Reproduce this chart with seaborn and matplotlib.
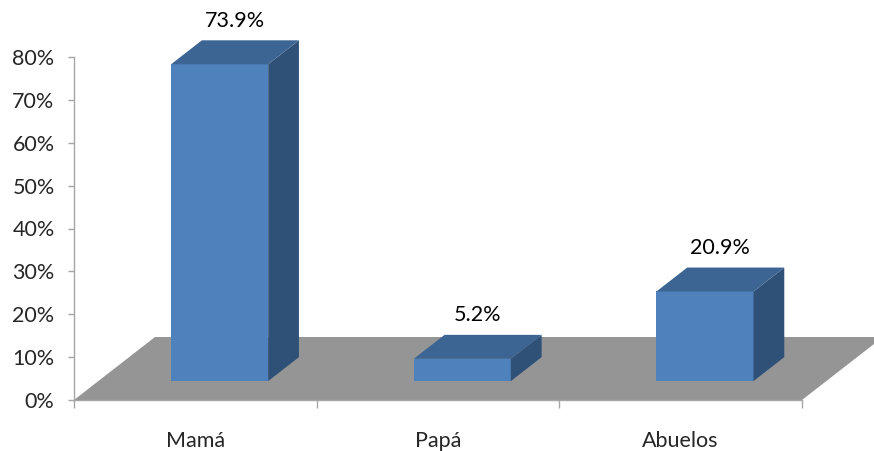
import matplotlib
matplotlib.use("Agg")
import matplotlib.pyplot as plt
from matplotlib.patches import Polygon
from matplotlib.ticker import FixedLocator, PercentFormatter
import seaborn as sns
import pandas as pd

# Chart data
categorias = ["Mamá", "Papá", "Abuelos"]
valores = [73.9, 5.2, 20.9]
etiquetas = ["73.9%", "5.2%", "20.9%"]
y_ticks = [0, 10, 20, 30, 40, 50, 60, 70, 80]

# Colours of the 3D boxes and floor
FRONT = "#4F81BD"
TOP = "#3C6594"
SIDE = "#2F5178"
FLOOR = "#959595"
AXIS = "#A6A6A6"

sns.set_style("white")
plt.rcParams["font.family"] = ["Lato", "DejaVu Sans"]
FS = 15.5

W, H = 874, 451
fig = plt.figure(figsize=(W / 100, H / 100), dpi=100)
# plot area: x from 74px to 802px, 0%..80% from y=400px to y=57px
ax = fig.add_axes([74 / W, (H - 400) / H, 728 / W, 343 / H])

# oblique projection of depth: full floor depth offsets in data units
DX = 81 / (728 / 3)
DY = 63 / (343 / 80)
Z0, Z1 = 0.30, 0.68          # depth range occupied by the boxes
XL, XR = -0.5 - Z0 * DX, 2.5 - Z0 * DX

# floor
ax.add_patch(Polygon([(XL, 0), (XR, 0), (XR + DX, DY), (XL + DX, DY)],
                     closed=True, facecolor=FLOOR, edgecolor="none",
                     zorder=0.5, clip_on=False))

df = pd.DataFrame({"categoria": categorias, "valor": valores})
sns.barplot(data=df, x="categoria", y="valor", width=0.4, color=FRONT,
            saturation=1, errorbar=None, bottom=Z0 * DY, linewidth=0,
            ax=ax, zorder=3, clip_on=False)

ddx = (Z1 - Z0) * DX
ddy = (Z1 - Z0) * DY
for bar, txt in zip(ax.patches[-len(valores):], etiquetas):
    x0 = bar.get_x()
    x1 = x0 + bar.get_width()
    b = bar.get_y()
    t = b + bar.get_height()
    ax.add_patch(Polygon([(x1, b), (x1 + ddx, b + ddy), (x1 + ddx, t + ddy), (x1, t)],
                         closed=True, facecolor=SIDE, edgecolor="none",
                         zorder=3, clip_on=False))
    ax.add_patch(Polygon([(x0, t), (x1, t), (x1 + ddx, t + ddy), (x0 + ddx, t + ddy)],
                         closed=True, facecolor=TOP, edgecolor="none",
                         zorder=3, clip_on=False))
    ax.annotate(txt, ((x0 + x1) / 2 + ddx / 2, t + ddy), xytext=(0, 7),
                textcoords="offset points", ha="center", va="bottom",
                fontsize=FS, color="black", annotation_clip=False)

ax.set_xlim(XL, XR)
ax.set_ylim(0, 80)
ax.set_yticks(y_ticks)
ax.yaxis.set_major_formatter(PercentFormatter(decimals=0))

centros = [i - Z0 * DX for i in range(len(categorias))]
ax.set_xticks(centros)
ax.set_xticklabels(categorias)
ax.xaxis.set_minor_locator(FixedLocator([XL + i for i in range(len(categorias) + 1)]))

ax.set_xlabel("")
ax.set_ylabel("")
for s in ["top", "right"]:
    ax.spines[s].set_visible(False)
for s in ["left", "bottom"]:
    ax.spines[s].set_color(AXIS)
    ax.spines[s].set_linewidth(1)

ax.tick_params(axis="y", direction="out", length=4, width=1, color=AXIS,
               pad=10, labelsize=FS, left=True)
ax.tick_params(axis="x", which="major", length=0, pad=22, labelsize=FS)
ax.tick_params(axis="x", which="minor", direction="out", length=6, width=1,
               color=AXIS, bottom=True)

fig.savefig("out.png", dpi=100)
